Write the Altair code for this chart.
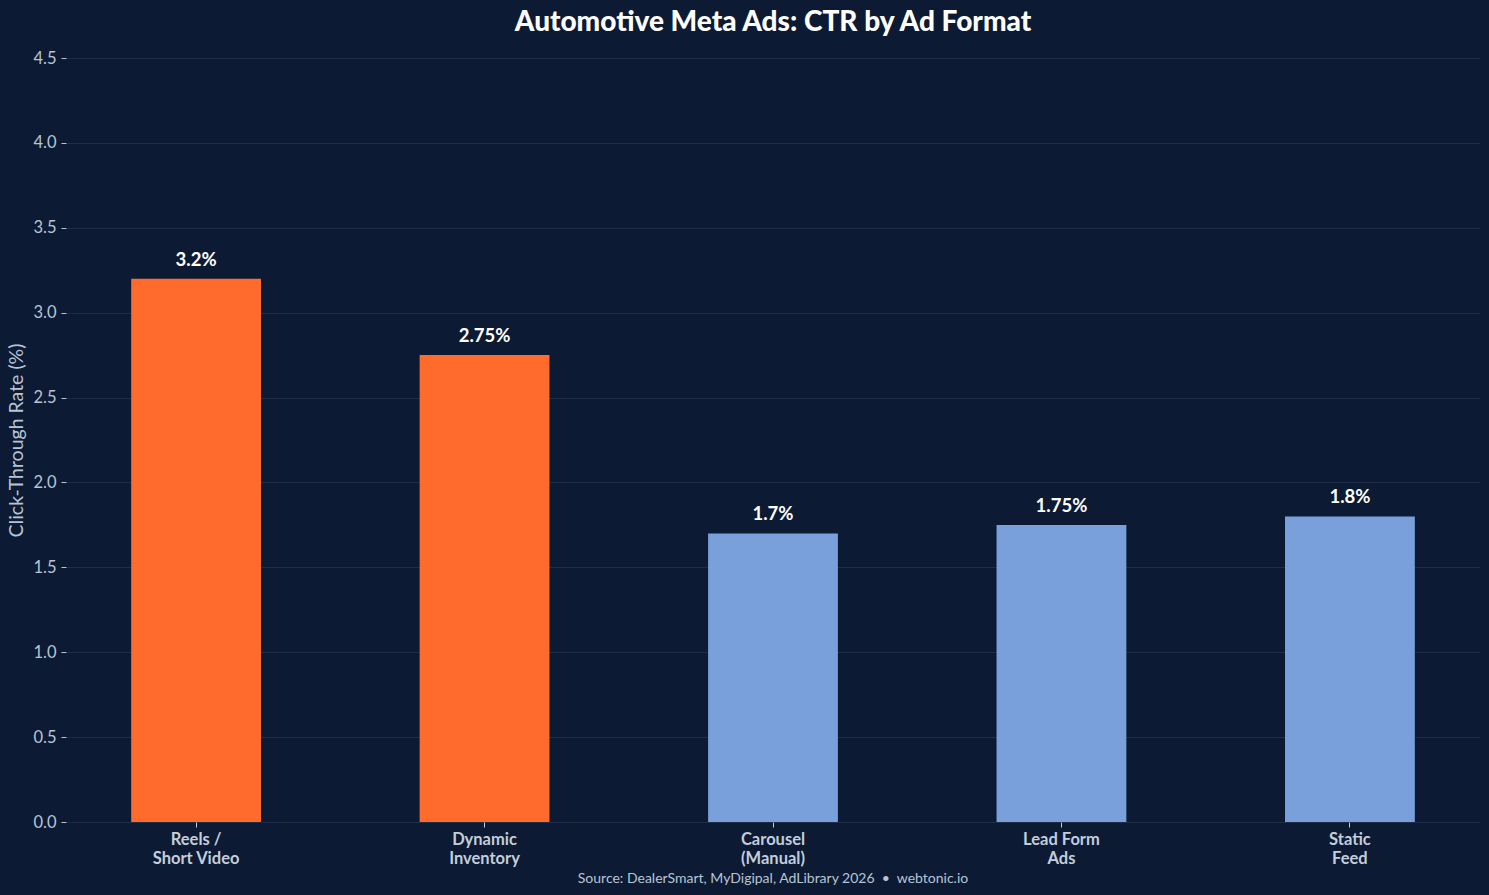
import altair as alt
import pandas as pd

formats = ["Reels /\nShort Video", "Dynamic\nInventory", "Carousel\n(Manual)", "Lead Form\nAds", "Static\nFeed"]
ctr = [3.2, 2.75, 1.7, 1.75, 1.8]
labels = ["3.2%", "2.75%", "1.7%", "1.75%", "1.8%"]
groups = ["top", "top", "other", "other", "other"]

df = pd.DataFrame({"format": formats, "ctr": ctr, "label": labels, "group": groups})

BG = "#0c1b33"
x_enc = alt.X("format:N", sort=formats, title=None,
              scale=alt.Scale(paddingInner=0.55, paddingOuter=0.226),
              axis=alt.Axis(labelAngle=0, labelExpr="split(datum.label, '\\n')",
                            labelFontWeight="bold", labelFontSize=16.5, labelLineHeight=19,
                            labelColor="#c3cddb", tickColor="#c3cddb", tickSize=5,
                            labelPadding=4, domain=False, grid=False))

bars = alt.Chart(df).mark_bar().encode(
    x=x_enc,
    y=alt.Y("ctr:Q", title="Click-Through Rate (%)",
            scale=alt.Scale(domain=[0, 4.5], nice=False),
            axis=alt.Axis(values=[0, 0.5, 1, 1.5, 2, 2.5, 3, 3.5, 4, 4.5], format=".1f",
                          labelFontSize=16.5, labelColor="#b8c4d6", tickColor="#b8c4d6",
                          tickSize=5, labelPadding=5, domain=False,
                          gridColor="#1f2e48", gridWidth=1,
                          titleFontSize=19.5, titleFontWeight="normal", titleColor="#b8c4d6",
                          titlePadding=6)),
    color=alt.Color("group:N", scale=alt.Scale(domain=["top", "other"], range=["#ff6b2c", "#7aa0dc"]), legend=None),
)

text = alt.Chart(df).mark_text(dy=-9, baseline="bottom", fontSize=18.5, fontWeight="bold", color="white").encode(
    x=alt.X("format:N", sort=formats),
    y="ctr:Q",
    text="label:N",
)

source = alt.Chart(pd.DataFrame({"t": ["Source: DealerSmart, MyDigipal, AdLibrary 2026 \u00a0\u2022\u00a0 webtonic.io"]})).mark_text(
    fontSize=14, color="#b8c4d6", baseline="middle", align="center"
).encode(x=alt.value(707), y=alt.value(821), text="t:N")

chart = alt.layer(bars, text, source).properties(
    width=1414, height=764,
    background=BG,
    padding={"left": 66, "top": 58, "right": 9, "bottom": 73},
    autosize=alt.AutoSizeParams(type="none"),
    title=alt.TitleParams("Automotive Meta Ads: CTR by Ad Format", fontSize=28, fontWeight=900,
                          color="white", anchor="middle", offset=13),
).configure(font="Lato").configure_view(stroke=None)

chart.save("out.html", embed_options={"renderer": "svg", "actions": False})
